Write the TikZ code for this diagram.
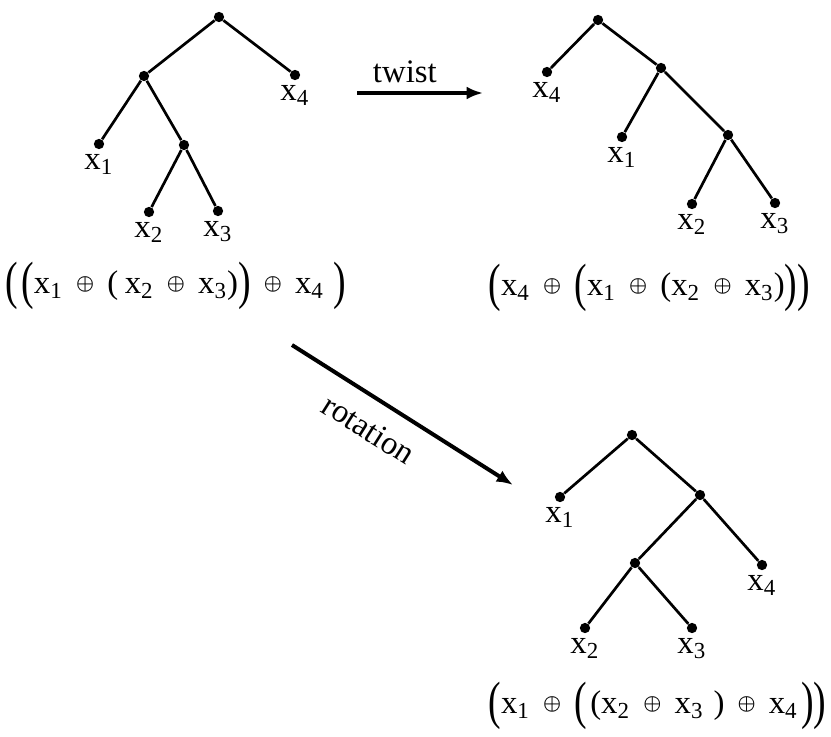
\documentclass[tikz,border=0pt]{standalone}
\usepackage{amsmath}
\usepackage{graphicx}
\usepackage{fontspec}
\setmainfont{Liberation Serif}
\usetikzlibrary{arrows.meta,positioning}

\newcommand\xv[1]{x\textsubscript{#1}}
\newcommand\op{\hspace{.4em}$\vcenter{\hbox{\scalebox{.6}{$\boldsymbol\oplus$}}}$\hspace{.4em}}
\newcommand\Lpar{\raisebox{-2.2pt}{\scalebox{1.15}[1.6]{(}}}
\newcommand\Rpar{\raisebox{-2.2pt}{\scalebox{1.15}[1.6]{)}}}

\begin{document}
\begin{tikzpicture}[>={Latex[length=7pt,width=5.5pt]}, x=.015cm, y=-.015cm,
  dot/.style={circle, fill, inner sep=0pt, minimum size=4.4pt},
  lbl/.style={inner sep=1pt},
  term/.style={anchor=base west, inner sep=0pt},
  edge/.style={line width=1.15pt},
  arr/.style={->, line width=1.7pt},
  font=\fontsize{14}{16}\selectfont]
\useasboundingbox (0,0) rectangle (831,736);

% left tree
\node[dot] (t1r) at (219,17) {};
\node[dot] (t1a) at (144,76) {};
\node[dot] (t1b) at (184,145) {};
\node[dot] (t1x1) at (99,144) {};
\node[dot] (t1x2) at (149,212) {};
\node[dot] (t1x3) at (218,211) {};
\node[dot] (t1x4) at (295,75) {};

% twisted tree
\node[dot] (t2r) at (598,20) {};
\node[dot] (t2a) at (661,68) {};
\node[dot] (t2b) at (728,135) {};
\node[dot] (t2x1) at (622,137) {};
\node[dot] (t2x2) at (692,204) {};
\node[dot] (t2x3) at (775,203) {};
\node[dot] (t2x4) at (547,72) {};

% rotated tree
\node[dot] (t3r) at (632,435) {};
\node[dot] (t3a) at (700,495) {};
\node[dot] (t3b) at (635,563) {};
\node[dot] (t3x1) at (560,497) {};
\node[dot] (t3x2) at (585,628) {};
\node[dot] (t3x3) at (692,628) {};
\node[dot] (t3x4) at (762,565) {};

\foreach \a/\b in {t1r/t1a, t1r/t1x4, t1a/t1x1, t1a/t1b, t1b/t1x2, t1b/t1x3,
                   t2r/t2x4, t2r/t2a, t2a/t2x1, t2a/t2b, t2b/t2x2, t2b/t2x3,
                   t3r/t3x1, t3r/t3a, t3a/t3b, t3a/t3x4, t3b/t3x2, t3b/t3x3}
{
   \draw[edge] (\a) -- (\b);
}

% leaf labels
\foreach \t in {1,2,3}
  \foreach \i in {1,2,3,4}
  {
     \node[lbl, below=1pt of t\t x\i] (t\t l\i) {\xv{\i}};
  }

% terms
\node[term] (f1) at (5,293)
  {\Lpar\hspace{.1em}\Lpar\xv1\op(\hspace{.2em}\xv2\op\xv3)\Rpar\op\xv4\hspace{.3em}\Rpar};
\node[term] (f2) at (488,295)
  {\Lpar\xv4\op\Lpar\xv1\op(\xv2\op\xv3)\Rpar\Rpar};
\node[term] (f3) at (488,713)
  {\Lpar\xv1\op\Lpar\hspace{.1em}(\xv2\op\xv3\hspace{.3em})\op\xv4\hspace{.1em}\Rpar\Rpar};

% moves
\coordinate (tws) at (357,93);
\coordinate (twe) at (483,93);
\draw[arr] (tws) -- (twe) node[pos=.38, above] (twl) {twist};
\coordinate (rts) at (292,345);
\coordinate (rte) at (513,485);
\draw[arr] (rts) -- (rte) node[pos=.42, sloped, below, yshift=-4pt] (rtl) {rotation};
\end{tikzpicture}
\end{document}
